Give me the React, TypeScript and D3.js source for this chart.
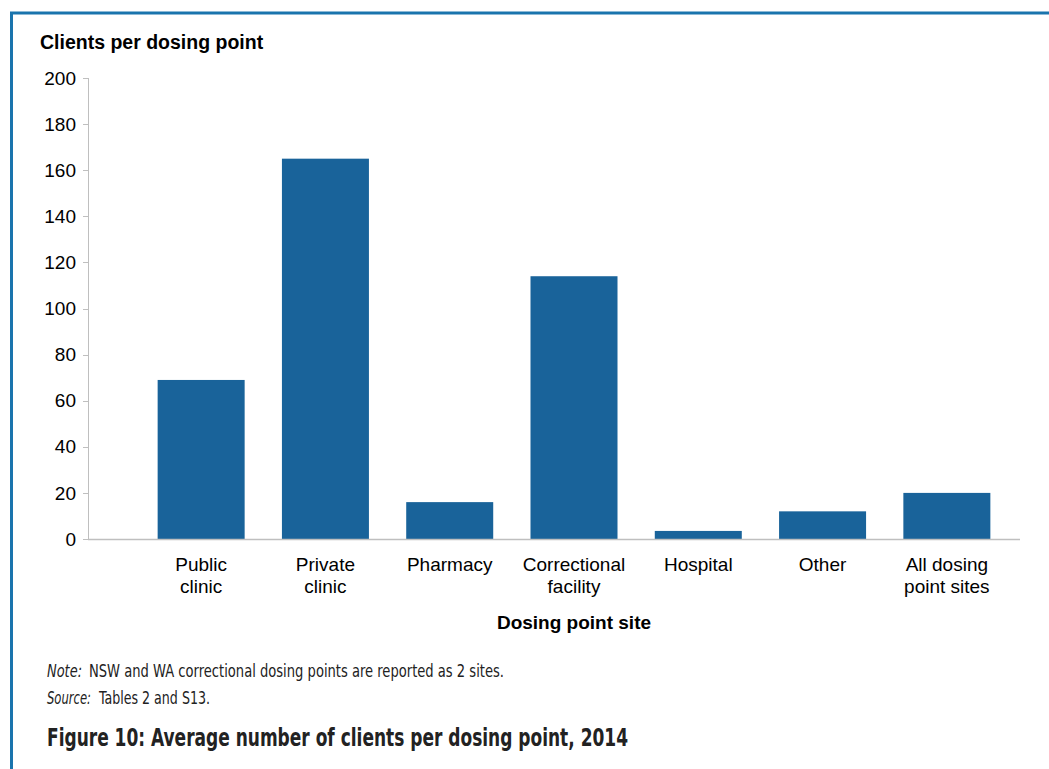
import React from "react";
import * as d3 from "d3";

const categories = [
  ["Public", "clinic"],
  ["Private", "clinic"],
  ["Pharmacy"],
  ["Correctional", "facility"],
  ["Hospital"],
  ["Other"],
  ["All dosing", "point sites"],
];
const values = [69, 165, 16, 114, 3.5, 12, 20];
const yTicks = [0, 20, 40, 60, 80, 100, 120, 140, 160, 180, 200];
const yTitle = "Clients per dosing point";
const xTitle = "Dosing point site";
const noteLabel = "Note:";
const noteText = "NSW and WA correctional dosing points are reported as 2 sites.";
const sourceLabel = "Source:";
const sourceText = "Tables 2 and S13.";
const figTitle = "Figure 10: Average number of clients per dosing point, 2014";

const W = 1049;
const H = 769;
const BAR = "#19639a";
const AXIS = "#bfbfbf";
const FONT = "'Liberation Sans', Arial, sans-serif";
const NARROW = "'DejaVu Sans Condensed', 'Liberation Sans', sans-serif";

export default function App() {
  const keys = categories.map((c) => c.join(" "));
  const x = d3.scaleBand<string>().domain(keys).range([139, 1009]).paddingInner(0.3).paddingOuter(0.15);
  const y = d3.scaleLinear().domain([0, 200]).range([539, 78]);
  const axisLeft = 88;
  const axisRight = 1020;

  return (
    <svg width={W} height={H} style={{ position: "absolute", left: 0, top: 0 }} xmlns="http://www.w3.org/2000/svg">
      <rect x={0} y={0} width={W} height={H} fill="#fff" />
      {/* border */}
      <line x1={10} y1={13} x2={W} y2={13} stroke="#1a74ad" strokeWidth={3} />
      <line x1={11.5} y1={12} x2={11.5} y2={H} stroke="#1a74ad" strokeWidth={3} />

      {/* y title */}
      <text x={40} y={49} fontFamily={FONT} fontWeight="bold" fontSize={19.5} fill="#000">{yTitle}</text>

      {/* y axis */}
      <line x1={axisLeft + 0.5} y1={y(200)} x2={axisLeft + 0.5} y2={y(0)} stroke={AXIS} strokeWidth={1} />
      {yTicks.map((t) => (
        <g key={t}>
          <line x1={axisLeft - 5} x2={axisLeft} y1={Math.round(y(t)) + 0.5} y2={Math.round(y(t)) + 0.5} stroke={AXIS} />
          <text x={76} y={y(t)} dy="0.35em" textAnchor="end" fontFamily={FONT} fontSize={19} fill="#000">{t}</text>
        </g>
      ))}

      {/* bars */}
      {values.map((v, i) => (
        <rect key={i} x={x(keys[i])} y={y(v)} width={x.bandwidth()} height={y(0) - y(v)} fill={BAR} />
      ))}

      {/* x axis */}
      <line x1={axisLeft} x2={axisRight} y1={y(0) + 0.5} y2={y(0) + 0.5} stroke={AXIS} strokeWidth={1.5} />
      {categories.map((c, i) =>
        c.map((line, j) => (
          <text key={i + "-" + j} x={(x(keys[i]) as number) + x.bandwidth() / 2} y={571 + j * 21.5}
            textAnchor="middle" fontFamily={FONT} fontSize={19} fill="#000">{line}</text>
        ))
      )}
      <text x={574} y={629} textAnchor="middle" fontFamily={FONT} fontWeight="bold" fontSize={19} fill="#000">{xTitle}</text>

      {/* notes */}
      <text x={47} y={677} fontFamily={NARROW} fontStyle="italic" fontSize={17} fill="#222" textLength={35} lengthAdjust="spacingAndGlyphs">{noteLabel}</text>
      <text x={89} y={677} fontFamily={NARROW} fontSize={17} fill="#222" textLength={415} lengthAdjust="spacingAndGlyphs">{noteText}</text>
      <text x={47} y={704} fontFamily={NARROW} fontStyle="italic" fontSize={17} fill="#222" textLength={44} lengthAdjust="spacingAndGlyphs">{sourceLabel}</text>
      <text x={99} y={704} fontFamily={NARROW} fontSize={17} fill="#222" textLength={111} lengthAdjust="spacingAndGlyphs">{sourceText}</text>
      <text x={47} y={746} fontFamily={NARROW} fontWeight="bold" fontSize={24} fill="#222" textLength={581} lengthAdjust="spacingAndGlyphs">{figTitle}</text>
    </svg>
  );
}
